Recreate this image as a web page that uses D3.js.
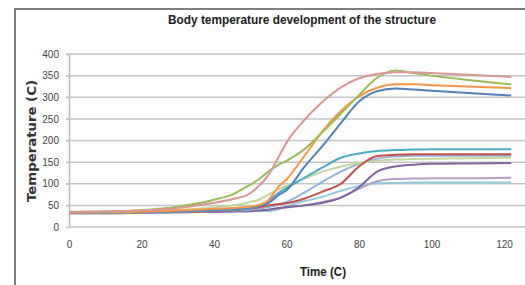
<!DOCTYPE html>
<html>
<head>
<meta charset="utf-8">
<script src="https://cdn.jsdelivr.net/npm/d3@7"></script>
<style>
  body { margin: 0; background: #fff; }
  svg { display: block; }
</style>
</head>
<body>
<div id="chart"></div>
<script>
// time axis values (C on the original axis title)
var times = [0, 10, 20, 30, 40, 45, 50, 52, 55, 58, 60, 65, 70, 75, 80, 85, 90, 95, 100, 110, 122];

// one array per curve, temperature at each time
var pink        = [34, 36, 38, 44, 56, 64, 78, 92, 120, 165, 195, 248, 290, 323, 344, 354, 358, 358, 356, 352, 347];
var green       = [35, 36, 39, 47, 63, 75, 98, 108, 128, 145, 153, 180, 220, 262, 305, 345, 362, 356, 350, 340, 330];
var orange      = [33, 34, 35, 38, 42, 44, 47, 50, 62, 95, 110, 165, 222, 268, 302, 322, 330, 330, 328, 325, 321];
var blue        = [33, 34, 35, 37, 40, 42, 45, 48, 55, 75, 85, 140, 188, 240, 290, 314, 320, 318, 315, 310, 304];
var teal        = [33, 33, 34, 36, 38, 40, 43, 48, 60, 80, 90, 114, 138, 160, 170, 176, 178, 179, 180, 180, 180];
var red         = [33, 33, 34, 35, 37, 39, 42, 45, 50, 53, 55, 66, 82, 100, 140, 164, 167, 168, 168, 168, 168];
var lightGreen  = [34, 35, 37, 40, 45, 50, 58, 62, 75, 88, 95, 112, 128, 140, 148, 153, 156, 157, 158, 159, 160];
var lightBlue   = [33, 33, 34, 35, 37, 38, 40, 42, 46, 52, 58, 80, 105, 128, 146, 158, 163, 165, 165, 165, 165];
var purple      = [32, 32, 33, 34, 35, 36, 37, 38, 40, 44, 46, 50, 56, 68, 92, 128, 140, 144, 146, 147, 148];
var lightPurple = [32, 32, 33, 34, 35, 36, 37, 38, 40, 43, 45, 50, 58, 68, 88, 106, 111, 112, 113, 113, 114];
var lightCyan   = [34, 34, 34, 35, 36, 36, 36, 37, 37, 42, 48, 60, 70, 84, 95, 101, 102, 103, 103, 103, 103];

var xTicks = [0, 20, 40, 60, 80, 100, 120];
var yTicks = [0, 50, 100, 150, 200, 250, 300, 350, 400];

var series = [
  { values: lightCyan,   color: '#93cddd' },
  { values: lightPurple, color: '#b3a2c7' },
  { values: purple,      color: '#8064a2' },
  { values: lightBlue,   color: '#95b3d7' },
  { values: lightGreen,  color: '#c3d69b' },
  { values: red,         color: '#c0504d' },
  { values: teal,        color: '#4bacc6' },
  { values: blue,        color: '#4f81bd' },
  { values: orange,      color: '#f79646' },
  { values: green,       color: '#9bbb59' },
  { values: pink,        color: '#da9694' }
];

var width = 525, height = 285;
var plotLeft = 69, plotRight = 504, plotTop = 54, plotBottom = 227;

var svg = d3.select('#chart').append('svg')
  .attr('width', width)
  .attr('height', height);

var x = d3.scaleLinear().domain([0, 120]).range([plotLeft, plotRight]);
var y = d3.scaleLinear().domain([0, 400]).range([plotBottom, plotTop]);

// outer frame (left and top edges show in the crop)
svg.append('path')
  .attr('d', 'M15,' + height + 'V9H' + width)
  .attr('fill', 'none')
  .attr('stroke', '#7f7f7f')
  .attr('stroke-width', 2);

// horizontal grid
svg.append('g')
  .selectAll('line')
  .data(yTicks.slice(1))
  .enter()
  .append('line')
  .attr('x1', plotLeft - 3)
  .attr('x2', width)
  .attr('y1', function (d) { return y(d); })
  .attr('y2', function (d) { return y(d); })
  .attr('stroke', '#c4c4c4')
  .attr('stroke-width', 1.5);

// axes
var yAxis = d3.axisLeft(y).tickValues(yTicks).tickSize(3).tickPadding(7);
var gy = svg.append('g')
  .attr('transform', 'translate(' + plotLeft + ',0)')
  .call(yAxis);
gy.select('.domain').attr('stroke', '#bdbdbd').attr('stroke-width', 1.5);
gy.selectAll('.tick line').attr('stroke', '#bdbdbd');
gy.selectAll('text')
  .attr('fill', '#444')
  .style('font-family', '"Liberation Sans Narrow", "Liberation Sans", sans-serif')
  .style('font-size', '10px');

var xAxis = d3.axisBottom(x).tickValues(xTicks).tickSize(0).tickPadding(14);
var gx = svg.append('g')
  .attr('transform', 'translate(0,' + plotBottom + ')')
  .call(xAxis);
gx.select('.domain').remove();
gx.selectAll('text')
  .attr('fill', '#444')
  .style('font-family', '"Liberation Sans Narrow", "Liberation Sans", sans-serif')
  .style('font-size', '10px');

svg.append('line')
  .attr('x1', plotLeft - 1)
  .attr('x2', width)
  .attr('y1', plotBottom)
  .attr('y2', plotBottom)
  .attr('stroke', '#d0d0d0')
  .attr('stroke-width', 2);

// curves
var line = d3.line()
  .x(function (d, i) { return x(times[i]); })
  .y(function (d) { return y(d); })
  .curve(d3.curveMonotoneX);

svg.append('g')
  .selectAll('path')
  .data(series)
  .enter()
  .append('path')
  .attr('d', function (s) { return line(s.values); })
  .attr('fill', 'none')
  .attr('stroke', function (s) { return s.color; })
  .attr('stroke-width', 2)
  .attr('stroke-linejoin', 'round');

// titles
svg.append('text')
  .attr('x', 302)
  .attr('y', 24)
  .attr('text-anchor', 'middle')
  .attr('textLength', 268)
  .attr('lengthAdjust', 'spacingAndGlyphs')
  .style('font-family', '"Liberation Sans Narrow", "Liberation Sans", sans-serif')
  .style('font-weight', 'bold')
  .style('font-size', '12px')
  .attr('fill', '#222')
  .text('Body temperature development of the structure');

svg.append('text')
  .attr('transform', 'translate(36,141) rotate(-90)')
  .attr('text-anchor', 'middle')
  .attr('textLength', 122)
  .attr('lengthAdjust', 'spacingAndGlyphs')
  .style('font-family', '"DejaVu Sans", sans-serif')
  .style('font-weight', 'bold')
  .style('font-size', '12px')
  .attr('fill', '#333')
  .text('Temperature (C)');

svg.append('text')
  .attr('x', 323)
  .attr('y', 276)
  .attr('text-anchor', 'middle')
  .attr('textLength', 46)
  .attr('lengthAdjust', 'spacingAndGlyphs')
  .style('font-family', '"Liberation Sans Narrow", "Liberation Sans", sans-serif')
  .style('font-weight', 'bold')
  .style('font-size', '12px')
  .attr('fill', '#222')
  .text('Time (C)');
</script>
</body>
</html>
